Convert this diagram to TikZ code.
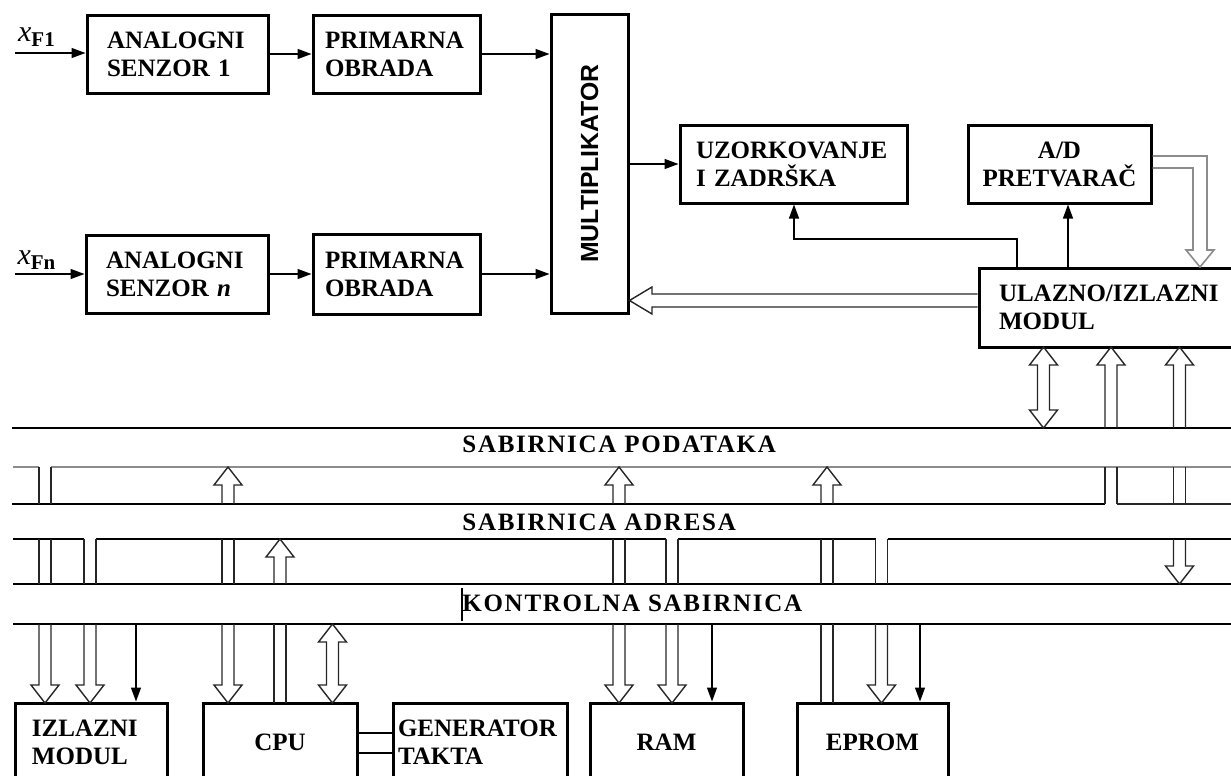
\documentclass[tikz,border=0pt]{standalone}
\usepackage{fontspec}
\usepackage{graphicx}
\setmainfont{Liberation Serif}
\newfontfamily\muxfont{Liberation Sans}
\newfontfamily\busfont[LetterSpace=6.9]{Liberation Serif}
\usetikzlibrary{arrows.meta,calc}
\newcommand\bfnt{\fontsize{12.5}{14}\selectfont\bfseries}
% wide (hollow) bus taps: x centre, y from, y to
\newcommand\tapL[3]{\draw[tap] (#1-6,#2) -- (#1-6,#3) (#1+6,#2) -- (#1+6,#3);}
\newcommand\tapA[3]{%
  \pgfmathsetmacro\tpb{#3 + (#2>#3 ? 18 : -18)}%
  \draw[tap] (#1-6,#2) -- (#1-6,\tpb) -- (#1-14,\tpb) -- (#1,#3) -- (#1+14,\tpb) -- (#1+6,\tpb) -- (#1+6,#2);}
\newcommand\tapD[3]{%
  \pgfmathsetmacro\tpa{#2 + (#3>#2 ? 18 : -18)}%
  \pgfmathsetmacro\tpb{#3 + (#2>#3 ? 18 : -18)}%
  \draw[tap] (#1,#2) -- (#1+14,\tpa) -- (#1+6,\tpa) -- (#1+6,\tpb) -- (#1+14,\tpb) -- (#1,#3)
     -- (#1-14,\tpb) -- (#1-6,\tpb) -- (#1-6,\tpa) -- (#1-14,\tpa) -- cycle;}
\begin{document}
\begin{tikzpicture}[x=0.5pt,y=-0.5pt,
  box/.style={draw, line width=1.5pt, inner sep=0pt, font=\bfnt, minimum height=39pt},
  arr/.style={line width=0.65pt, -{Triangle[length=7pt,width=5pt]}},
  thinln/.style={line width=0.65pt},
  bus/.style={line width=0.65pt, black},
  busgray/.style={line width=0.8pt, black!45},
  tap/.style={line width=0.7pt, black!85, line join=miter},
  tapgray/.style={line width=0.8pt, black!45, line join=miter},
  buslab/.style={inner sep=0pt, anchor=west, font=\busfont\fontsize{12.5}{14}\selectfont\bfseries},
  xlab/.style={inner sep=0pt, font=\fontsize{15}{16}\selectfont}]
\useasboundingbox (0,0) rectangle (1231,776);
\clip (0,0) rectangle (1231,776);

% ---------- boxes ----------
\node[box, align=left, text width=70.5pt, inner xsep=10pt] (s1) at (177.5,54) {ANALOGNI\\SENZOR 1};
\node[box, align=left, text width=71.5pt, inner xsep=6pt] (p1) at (396.5,54) {PRIMARNA\\OBRADA};
\node[box, align=left, text width=71pt, inner xsep=10pt] (sn) at (177,274) {ANALOGNI\\SENZOR \textit{n}};
\node[box, align=left, text width=71.5pt, inner xsep=6pt, minimum height=40pt] (pn) at (396.5,274) {PRIMARNA\\OBRADA};
\node[box, minimum width=38.5pt, minimum height=149.5pt] (mux) at (589.5,163.5)
  {\rotatebox{90}{\muxfont\fontsize{12.4}{14}\selectfont\bfseries MULTIPLIKATOR}};
\node[box, align=left, text width=97.5pt, inner xsep=8pt] (uz) at (793.5,164) {UZORKOVANJE\\I ZADRŠKA};
\node[box, align=center, minimum width=91.5pt] (ad) at (1059.5,164) {A/D\\PRETVARAČ};
\node[box, align=left, text width=110.5pt, inner xsep=10pt, minimum height=39.5pt] (io) at (1109.5,307.5) {ULAZNO/IZLAZNI\\MODUL};
\node[box, align=left, text width=59pt, inner xsep=8.5pt] (iz) at (91,742) {IZLAZNI\\MODUL};
\node[box, align=center, minimum width=77pt] (cpu) at (280,742) {CPU};
\node[box, align=left, text width=82pt, inner xsep=2.5pt] (gen) at (480,742) {GENERATOR\\TAKTA};
\node[box, align=center, minimum width=76.5pt] (ram) at (666.5,742) {RAM};
\node[box, align=center, minimum width=75.5pt] (eprom) at (872.5,742) {EPROM};

% ---------- inputs ----------
\coordinate (in1) at (15,53);
\coordinate (inn) at (15,274);
\node[xlab] (xf1) at (37,37) {\textit{x}\textsubscript{\bfseries F1}};
\node[xlab] (xfn) at (37,260) {\textit{x}\textsubscript{\bfseries Fn}};
\draw[arr] (in1) -- (s1.west |- in1);
\draw[arr] (inn) -- (sn.west |- inn);
\draw[arr] (s1.east) -- (p1.west);
\draw[arr] (sn.east) -- (pn.west);
\draw[arr] (p1.east) -- (p1.east -| mux.west);
\draw[arr] (pn.east) -- (pn.east -| mux.west);
\draw[arr] (mux.east |- uz.west) -- (uz.west);

% ---------- I/O module links ----------
\coordinate (k1) at (1017,239);
\coordinate (k2) at (794,239);
\coordinate (k3) at (1068,239);
\draw[arr] (k1 |- io.north) -- (k1) -- (k2) -- (k2 |- uz.south);
\draw[arr] (k3 |- io.north) -- (k3 |- ad.south);
\draw[tapgray] (ad.east |- 0,156) -- (1207,156) -- (1207,250) -- (1214,250) -- (1200,267)
   -- (1186,250) -- (1193,250) -- (1193,168) -- (ad.east |- 0,168);
\draw[tap] (io.west |- 0,294) -- (652,294) -- (652,287) -- (mux.east |- 0,300.5)
   -- (652,314) -- (652,307) -- (io.west |- 0,307);

% ---------- buses ----------
\draw[bus] (12,428) -- (1231,428);
\draw[busgray] (13,467) -- (39,467) (51,467) -- (1231,467);
\draw[bus] (12,504) -- (1105,504);
\draw[tap] (1117,504) -- (1231,504);
\draw[bus] (13,539) -- (84,539) (96,539) -- (666,539) (678,539) -- (875.5,539) (887.5,539) -- (1231,539);
\draw[bus] (13,584) -- (1231,584);
\draw[bus] (13,624) -- (1231,624);
\draw[thinln] (462,588) -- (462,621);
\node[buslab] (lpod) at (462,444) {SABIRNICA PODATAKA};
\node[buslab] (ladr) at (462,522) {SABIRNICA ADRESA};
\node[buslab] (lkon) at (462,603) {KONTROLNA SABIRNICA};

% ---------- taps ----------
% izlazni modul
\tapL{45}{467}{504}\tapL{45}{539}{584}\tapA{45}{624}{703}
\tapL{90}{539}{584}\tapA{90}{624}{703}
\coordinate (c1) at (136,624);
\draw[arr] (c1) -- (c1 |- iz.north);
% CPU
\tapA{228}{504}{467}\tapL{228}{539}{584}\tapA{228}{624}{703}
\tapA{280}{584}{539}\tapL{280}{624}{703}
\tapD{332.5}{624}{703}
\draw[thinln] ($(cpu.east)+(0,-9)$) -- ($(gen.west)+(0,-9)$);
\draw[thinln] ($(cpu.east)+(0,11)$) -- ($(gen.west)+(0,11)$);
% RAM
\tapA{619}{504}{467}\tapL{619}{539}{584}\tapA{619}{624}{703}
\tapL{672}{539}{584}\tapA{672}{624}{703}
\coordinate (c2) at (712,624);
\draw[arr] (c2) -- (c2 |- ram.north);
% EPROM
\tapA{827}{504}{467}\tapL{827}{539}{584}\tapL{827}{624}{703}
\tapL{881.5}{539}{584}\tapA{881.5}{624}{703}
\coordinate (c3) at (920,624);
\draw[arr] (c3) -- (c3 |- eprom.north);
% ulazno/izlazni modul
\tapD{1043.5}{347}{428}
\tapA{1111}{428}{347}\tapL{1111}{467}{504}
\tapA{1179.5}{428}{347}\tapL{1179.5}{467}{504}\tapA{1179.5}{539}{584}
\end{tikzpicture}
\end{document}
